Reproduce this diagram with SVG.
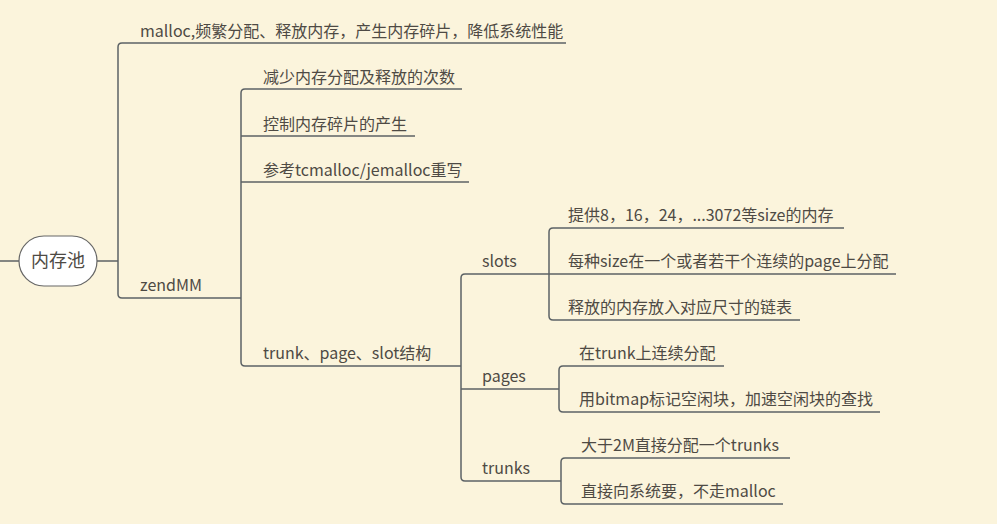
<svg xmlns="http://www.w3.org/2000/svg" width="997" height="524" viewBox="0 0 997 524">
<style>
.t{font-family:"Noto Sans CJK SC","Noto Sans",sans-serif;font-size:16px;fill:#4e4a44}
.r{font-size:18px}
.c{fill:none;stroke:#5c6265;stroke-width:1.5}
</style>
<rect width="997" height="524" fill="#FBF4DC"/>
<g id="connectors">
<path class="c" d="M0,261 H19"/>
<path class="c" d="M97,261 H118"/>
<path class="c" d="M118,261 V47 Q118,43 122,43 H566"/>
<path class="c" d="M118,261 V294 Q118,298 122,298 H241"/>
<path class="c" d="M241,298 V93 Q241,89 245,89 H462"/>
<path class="c" d="M241,136 H415"/>
<path class="c" d="M241,182 H469"/>
<path class="c" d="M241,298 V362 Q241,366 245,366 H461"/>
<path class="c" d="M461,366 V278 Q461,274 465,274 H549"/>
<path class="c" d="M461,389 H559"/>
<path class="c" d="M461,366 V477 Q461,481 465,481 H561"/>
<path class="c" d="M549,274 V232 Q549,228 553,228 H844"/>
<path class="c" d="M549,274 H896"/>
<path class="c" d="M549,274 V316 Q549,320 553,320 H800"/>
<path class="c" d="M559,389 V370 Q559,366 563,366 H724"/>
<path class="c" d="M559,389 V408 Q559,412 563,412 H880"/>
<path class="c" d="M561,481 V462 Q561,458 565,458 H790"/>
<path class="c" d="M561,481 V500 Q561,504 565,504 H783"/>
</g>
<g id="root">
<rect x="19" y="236" width="78" height="50" rx="25" fill="#fff" stroke="#666" stroke-width="1.2"/>
<text class="t r" x="58" y="267" text-anchor="middle">内存池</text>
</g>
<g id="n-malloc"><text class="t" x="140" y="37">malloc,频繁分配、释放内存，产生内存碎片，降低系统性能</text></g>
<g id="n-zendmm"><text class="t" x="140" y="291">zendMM</text></g>
<g id="n-reduce"><text class="t" x="263" y="83">减少内存分配及释放的次数</text></g>
<g id="n-control"><text class="t" x="263" y="130">控制内存碎片的产生</text></g>
<g id="n-ref"><text class="t" x="263" y="176">参考tcmalloc/jemalloc重写</text></g>
<g id="n-struct"><text class="t" x="263" y="359">trunk、page、slot结构</text></g>
<g id="n-slots"><text class="t" x="482" y="267">slots</text></g>
<g id="n-pages"><text class="t" x="482" y="382">pages</text></g>
<g id="n-trunks"><text class="t" x="482" y="474">trunks</text></g>
<g id="n-s1"><text class="t" x="568" y="221">提供8，16，24，...3072等size的内存</text></g>
<g id="n-s2"><text class="t" x="568" y="267">每种size在一个或者若干个连续的page上分配</text></g>
<g id="n-s3"><text class="t" x="568" y="313">释放的内存放入对应尺寸的链表</text></g>
<g id="n-p1"><text class="t" x="579" y="359">在trunk上连续分配</text></g>
<g id="n-p2"><text class="t" x="579" y="405">用bitmap标记空闲块，加速空闲块的查找</text></g>
<g id="n-t1"><text class="t" x="581" y="451">大于2M直接分配一个trunks</text></g>
<g id="n-t2"><text class="t" x="581" y="497">直接向系统要，不走malloc</text></g>
</svg>
